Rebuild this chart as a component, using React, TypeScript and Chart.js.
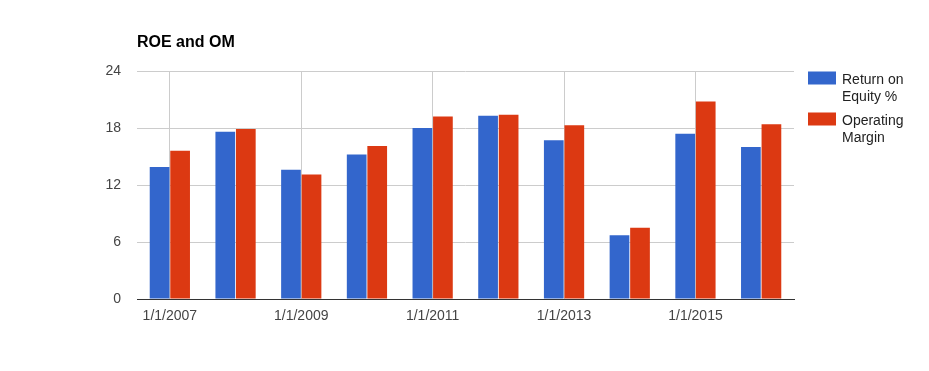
import React, { useEffect, useRef } from "react";
import { Chart, registerables } from "chart.js";

Chart.register(...registerables);

const categories = [
  "1/1/2007", "1/1/2008", "1/1/2009", "1/1/2010", "1/1/2011",
  "1/1/2012", "1/1/2013", "1/1/2014", "1/1/2015", "1/1/2016",
];
const roeValues = [13.9, 17.6, 13.6, 15.2, 18.0, 19.3, 16.7, 6.7, 17.4, 16.0];
const omValues = [15.6, 17.9, 13.1, 16.1, 19.2, 19.4, 18.3, 7.5, 20.8, 18.4];
const seriesNames = [["Return on", "Equity %"], ["Operating", "Margin"]];
const seriesColors = ["#3366cc", "#dc3912"];
const yTicks = [0, 6, 12, 18, 24];
const titleText = "ROE and OM";

const FONT = "'Liberation Sans', Arial, sans-serif";

const decorPlugin = {
  id: "decor",
  afterDraw(chart: any) {
    const { ctx, chartArea } = chart;
    ctx.save();
    // title
    ctx.font = `bold 16px ${FONT}`;
    ctx.fillStyle = "#000";
    ctx.textAlign = "left";
    ctx.textBaseline = "alphabetic";
    ctx.fillText(titleText, chartArea.left, 47);
    // legend
    const lx = chartArea.right + 14;
    const tops = [chartArea.top + 0.5, chartArea.top + 41.5];
    ctx.font = `14px ${FONT}`;
    seriesNames.forEach((lines, i) => {
      const top = tops[i];
      ctx.fillStyle = seriesColors[i];
      ctx.fillRect(lx, top, 28, 13);
      ctx.fillStyle = "#222";
      lines.forEach((line, j) => {
        ctx.fillText(line, lx + 34, top + 12 + j * 17.5);
      });
    });
    ctx.restore();
  },
};

export default function App() {
  const canvasRef = useRef<HTMLCanvasElement | null>(null);

  useEffect(() => {
    document.body.style.margin = "0";
    const canvas = canvasRef.current;
    if (!canvas) return;
    const chart = new Chart(canvas, {
      type: "bar",
      data: {
        labels: categories,
        datasets: [
          {
            label: seriesNames[0].join(" "),
            data: roeValues,
            backgroundColor: seriesColors[0],
            categoryPercentage: 0.625,
            barPercentage: 0.96,
          },
          {
            label: seriesNames[1].join(" "),
            data: omValues,
            backgroundColor: seriesColors[1],
            categoryPercentage: 0.625,
            barPercentage: 0.96,
          },
        ],
      },
      options: {
        responsive: false,
        animation: false,
        devicePixelRatio: 1,
        layout: { padding: { top: 71, right: 135, left: 0, bottom: 0 } },
        plugins: {
          legend: { display: false },
          title: { display: false },
          tooltip: { enabled: false },
        },
        scales: {
          x: {
            offset: true,
            afterFit: (scale: any) => {
              scale.height = 72;
            },
            grid: {
              offset: false,
              drawTicks: false,
              color: (c: any) => (c.index % 2 === 0 ? "#cccccc" : "rgba(0,0,0,0)"),
              lineWidth: 1,
            },
            border: { display: true, color: "#333333", width: 1, z: 1 },
            ticks: {
              autoSkip: false,
              maxRotation: 0,
              padding: 9,
              color: "#444444",
              font: { family: FONT, size: 14 },
              callback: (_v: any, i: number) => (i % 2 === 0 ? categories[i] : ""),
            },
          },
          y: {
            min: yTicks[0],
            max: yTicks[yTicks.length - 1],
            afterFit: (scale: any) => {
              scale.width = 137;
            },
            afterBuildTicks: (scale: any) => {
              scale.ticks = yTicks.map((v) => ({ value: v }));
            },
            grid: {
              drawTicks: false,
              color: (c: any) => (c.tick && c.tick.value === 0 ? "#333333" : "#cccccc"),
            },
            border: { display: false },
            ticks: {
              padding: 16,
              color: "#444444",
              font: { family: FONT, size: 14 },
            },
          },
        },
      },
      plugins: [decorPlugin],
    });
    return () => chart.destroy();
  }, []);

  return (
    <div style={{ width: 929, height: 371 }}>
      <canvas ref={canvasRef} width={929} height={371} />
    </div>
  );
}
